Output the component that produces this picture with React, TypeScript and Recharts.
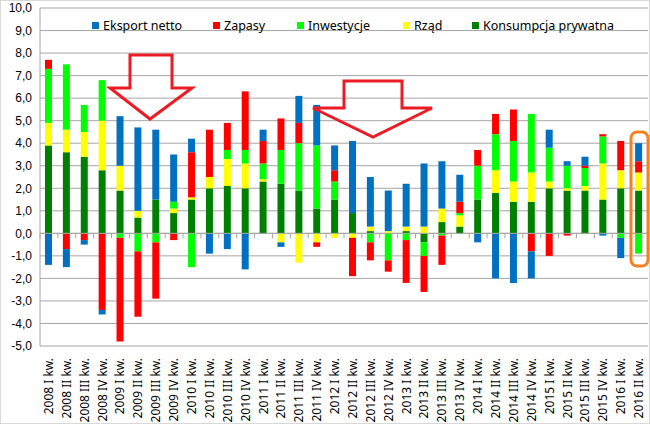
import React from 'react'
import { BarChart, Bar, XAxis, YAxis, CartesianGrid, ReferenceLine } from 'recharts'

const categories = [
  '2008 I kw.', '2008 II kw.', '2008 III kw.', '2008 IV kw.',
  '2009 I kw.', '2009 II kw.', '2009 III kw.', '2009 IV kw.',
  '2010 I kw.', '2010 II kw.', '2010 III kw.', '2010 IV kw.',
  '2011 I kw.', '2011 II kw.', '2011 III kw.', '2011 IV kw.',
  '2012 I kw.', '2012 II kw.', '2012 III kw.', '2012 IV kw.',
  '2013 I kw.', '2013 II kw.', '2013 III kw.', '2013 IV kw.',
  '2014 I kw.', '2014 II kw.', '2014 III kw.', '2014 IV kw.',
  '2015 I kw.', '2015 II kw.', '2015 III kw.', '2015 IV kw.',
  '2016 I kw.', '2016 II kw.',
]

const konsumpcja = [
  3.9, 3.6, 3.4, 2.8, 1.9, 0.7, 1.5, 0.9, 1.5, 2.0, 2.1, 2.0, 2.3, 2.2, 1.9, 1.1, 1.5,
  0.9, 0.1, 0.0, 0.1, -0.4, 0.5, 0.3, 1.5, 1.8, 1.4, 1.4, 2.0, 1.9, 1.9, 1.5, 2.0, 1.9,
]
const rzad = [
  1.0, 1.0, 1.1, 2.2, 1.1, 0.3, 0.0, 0.2, 0.1, 0.5, 1.2, 1.1, 0.1, -0.4, -1.3, -0.4, -0.2,
  -0.2, 0.2, 0.1, 0.2, 0.3, 0.6, 0.5, 0.0, 1.0, 0.9, 1.3, 0.3, 0.1, 0.2, 1.6, 0.8, 0.8,
]
const inwestycje = [
  2.4, 2.9, 1.2, 1.8, -0.2, -0.8, -0.4, 0.3, -1.5, 0.0, 0.4, 0.6, 0.7, 1.5, 2.1, 2.8, 0.8,
  0.0, -0.4, -1.2, -0.3, -0.6, -0.1, 0.1, 1.5, 1.6, 1.8, 2.6, 1.5, 1.0, 0.8, 1.2, -0.2, -0.9,
]
const zapasy = [
  0.4, -0.7, -0.3, -3.4, -4.6, -2.9, -2.5, -0.3, 2.0, 2.1, 1.2, 2.6, 1.0, 1.4, 0.9, -0.2, 0.5,
  -1.7, -0.8, -0.5, -1.9, -1.6, -1.3, 0.5, 0.7, 0.9, 1.4, -0.8, -1.0, -0.1, 0.1, 0.1, 1.3, 0.5,
]
const eksport = [
  -1.4, -0.8, -0.2, -0.2, 2.2, 3.7, 3.1, 2.1, 0.6, -0.9, -0.7, -1.6, 0.5, -0.2, 1.2, 1.8, 1.1,
  3.2, 2.2, 1.8, 1.9, 2.8, 2.1, 1.2, -0.4, -2.0, -2.2, -1.2, 0.8, 0.2, 0.4, -0.1, -0.9, 0.8,
]

const yTicks = [-5, -4, -3, -2, -1, 0, 1, 2, 3, 4, 5, 6, 7, 8, 9, 10]

// stacking order from zero outwards
const series = [
  { key: 'konsumpcja', name: 'Konsumpcja prywatna', color: '#008000' },
  { key: 'rzad', name: 'Rząd', color: '#FFFF00' },
  { key: 'inwestycje', name: 'Inwestycje', color: '#00FF00' },
  { key: 'zapasy', name: 'Zapasy', color: '#FF0000' },
  { key: 'eksport', name: 'Eksport netto', color: '#0070C0' },
]

// legend order and left edge of each swatch
const legendOrder = ['eksport', 'zapasy', 'inwestycje', 'rzad', 'konsumpcja']
const legendLeft = [92, 213, 297, 403, 472]

const data = categories.map((name, i) => ({
  name,
  konsumpcja: konsumpcja[i],
  rzad: rzad[i],
  inwestycje: inwestycje[i],
  zapasy: zapasy[i],
  eksport: eksport[i],
}))

const FONT = '"Noto Sans", "Open Sans", sans-serif'

function XTick(props: any) {
  const { x, y, payload } = props
  return (
    <text
      x={0}
      y={0}
      transform={`translate(${x + 4},${y + 4}) rotate(-90)`}
      textAnchor="end"
      fontSize={12}
      fontFamily={FONT}
      fill="#000"
    >
      {payload.value}
    </text>
  )
}

// zero line with the small category tick marks under it
function ZeroAxis(props: any) {
  const { x1, y1, x2, y2 } = props
  if (x1 == null) return null
  const n = categories.length
  const step = (x2 - x1) / n
  return (
    <g>
      <line x1={x1} y1={y1} x2={x2} y2={y2} stroke="#A6A6A6" strokeWidth={1} />
      {Array.from({ length: n + 1 }, (_, i) => (
        <line
          key={i}
          x1={x1 + step * i}
          x2={x1 + step * i}
          y1={y1}
          y2={y1 + 5}
          stroke="#A6A6A6"
          strokeWidth={1}
        />
      ))}
    </g>
  )
}

export default function App() {
  return (
    <div
      style={{
        position: 'absolute',
        left: 0,
        top: 0,
        width: 650,
        height: 424,
        boxSizing: 'border-box',
        border: '1px solid #D9D9D9',
        background: '#fff',
        fontFamily: FONT,
      }}
    >
      <BarChart
        width={648}
        height={422}
        data={data}
        stackOffset="sign"
        margin={{ top: 7, right: 1, bottom: 0, left: 0 }}
        style={{ overflow: 'visible' }}
      >
        <CartesianGrid vertical={false} stroke="#A6A6A6" />
        <XAxis
          dataKey="name"
          interval={0}
          height={77}
          tick={<XTick />}
          tickLine={false}
          axisLine={false}
        />
        <YAxis
          domain={[-5, 10]}
          ticks={yTicks}
          width={39}
          interval={0}
          tickLine={false}
          axisLine={{ stroke: '#A6A6A6' }}
          tickFormatter={(v: number) => v.toFixed(1).replace('.', ',')}
          tick={{ fontSize: 12, fill: '#000', fontFamily: '"Liberation Sans", Arial, sans-serif' }}
        />
        {series.map((s) => (
          <Bar
            key={s.key}
            dataKey={s.key}
            name={s.name}
            stackId="a"
            fill={s.color}
            barSize={7}
            isAnimationActive={false}
          />
        ))}
        <ReferenceLine y={0} shape={(p: any) => <ZeroAxis {...p} />} />
      </BarChart>

      {/* legend */}
      {legendOrder.map((k, i) => {
        const s = series.find((x) => x.key === k)!
        return (
          <div
            key={k}
            style={{
              position: 'absolute',
              top: 16,
              left: legendLeft[i] - 1,
              display: 'flex',
              alignItems: 'center',
              fontSize: 12.5,
              color: '#000',
              whiteSpace: 'nowrap',
            }}
          >
            <span style={{ width: 7, height: 7, background: s.color, marginRight: 4 }} />
            <span>{s.name}</span>
          </div>
        )
      })}

      {/* annotations */}
      <svg
        width={650}
        height={424}
        style={{ position: 'absolute', left: -1, top: -1, pointerEvents: 'none' }}
      >
        <polygon
          points="130,55 172,55 172,88 192,88 150,119 110,88 130,88"
          fill="none"
          stroke="#ED1C24"
          strokeWidth={3}
        />
        <polygon
          points="344,81 402,81 402,108 432,108 373,137 313,108 344,108"
          fill="none"
          stroke="#ED1C24"
          strokeWidth={3}
        />
        <rect x={631} y={132} width={17} height={134} rx={6} fill="none" stroke="#F58220" strokeWidth={3} />
      </svg>
    </div>
  )
}
